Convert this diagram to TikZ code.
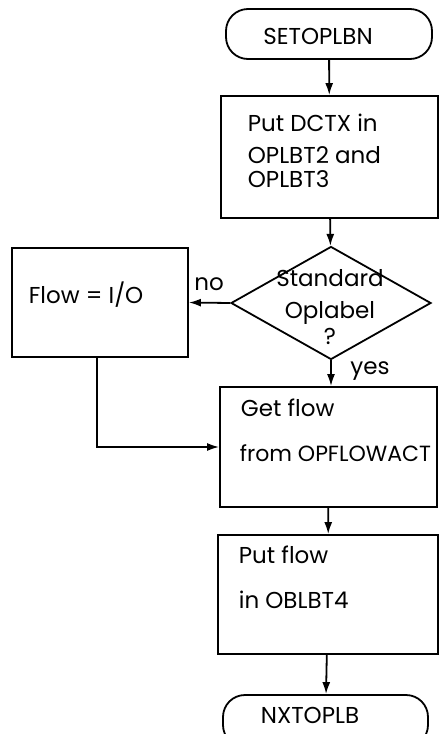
\documentclass[tikz,border=0pt]{standalone}
\usepackage{fontspec}
\setmainfont{Poppins}
\usetikzlibrary{arrows.meta,shapes.geometric}
\begin{document}
\begin{tikzpicture}[x=1pt,y=-1pt,
  line width=1.8pt,
  box/.style={draw,rectangle,inner sep=0pt},
  term/.style={draw,rectangle,rounded corners=22pt,inner sep=0pt},
  txt/.style={inner sep=0pt,anchor=base west,font=\fontsize{23}{23}\selectfont},
  ctxt/.style={inner sep=0pt,anchor=base,font=\fontsize{23}{23}\selectfont},
  arr/.style={-{Latex[length=12pt,width=8pt]}}]
\useasboundingbox (0,0) rectangle (443,734);
% shapes
\node[term,minimum width=206pt,minimum height=50pt] (t1) at (329,34) {};
\node[box,minimum width=217pt,minimum height=122pt] (b1) at (329.5,157) {};
\node[draw,diamond,inner sep=0pt,aspect=1.77,minimum width=200pt,minimum height=113pt] (d) at (331,303) {};
\node[box,minimum width=176pt,minimum height=109pt] (f) at (100,302.5) {};
\node[box,minimum width=217pt,minimum height=120pt] (g) at (328.5,447) {};
\node[box,minimum width=220pt,minimum height=119pt] (p) at (328,594.5) {};
\node[term,minimum width=205pt,minimum height=52pt] (t2) at (325.5,721) {};
% texts
\node[ctxt] (t1t) at (318,44) {SETOPLBN};
\node[txt] (b1a) at (247,131) {Put DCTX in};
\node[txt] (b1b) at (247,163) {OPLBT2 and};
\node[txt] (b1c) at (247,187) {OPLBT3};
\node[ctxt] (d1) at (330,286) {Standard};
\node[ctxt] (d2) at (330,318) {Oplabel};
\node[ctxt] (d3) at (330,344) {?};
\node[txt] (ft) at (28,303) {Flow = I/O};
\node[txt] (ga) at (240,416) {Get flow};
\node[txt,font=\fontsize{22}{22}\selectfont] (gb) at (239,461) {from OPFLOWACT};
\node[txt] (pa) at (238,563) {Put flow};
\node[txt] (pb) at (238,608) {in OBLBT4};
\node[ctxt] (t2t) at (310,723) {NXTOPLB};
\node[ctxt] (no) at (209,290) {no};
\node[ctxt] (yes) at (370,374) {yes};
% connectors
\draw[arr] (t1) -- (b1);
\draw[arr] (b1) -- (d);
\draw[arr] (d.west) -- (f.east);
\draw[arr] (d.south) -- (g.north -| d.south);
\draw[arr] ([xshift=-3pt]f.south) |- (g.west);
\draw[arr] (g) -- (p);
\draw[arr] (p) -- (t2);
\end{tikzpicture}
\end{document}
